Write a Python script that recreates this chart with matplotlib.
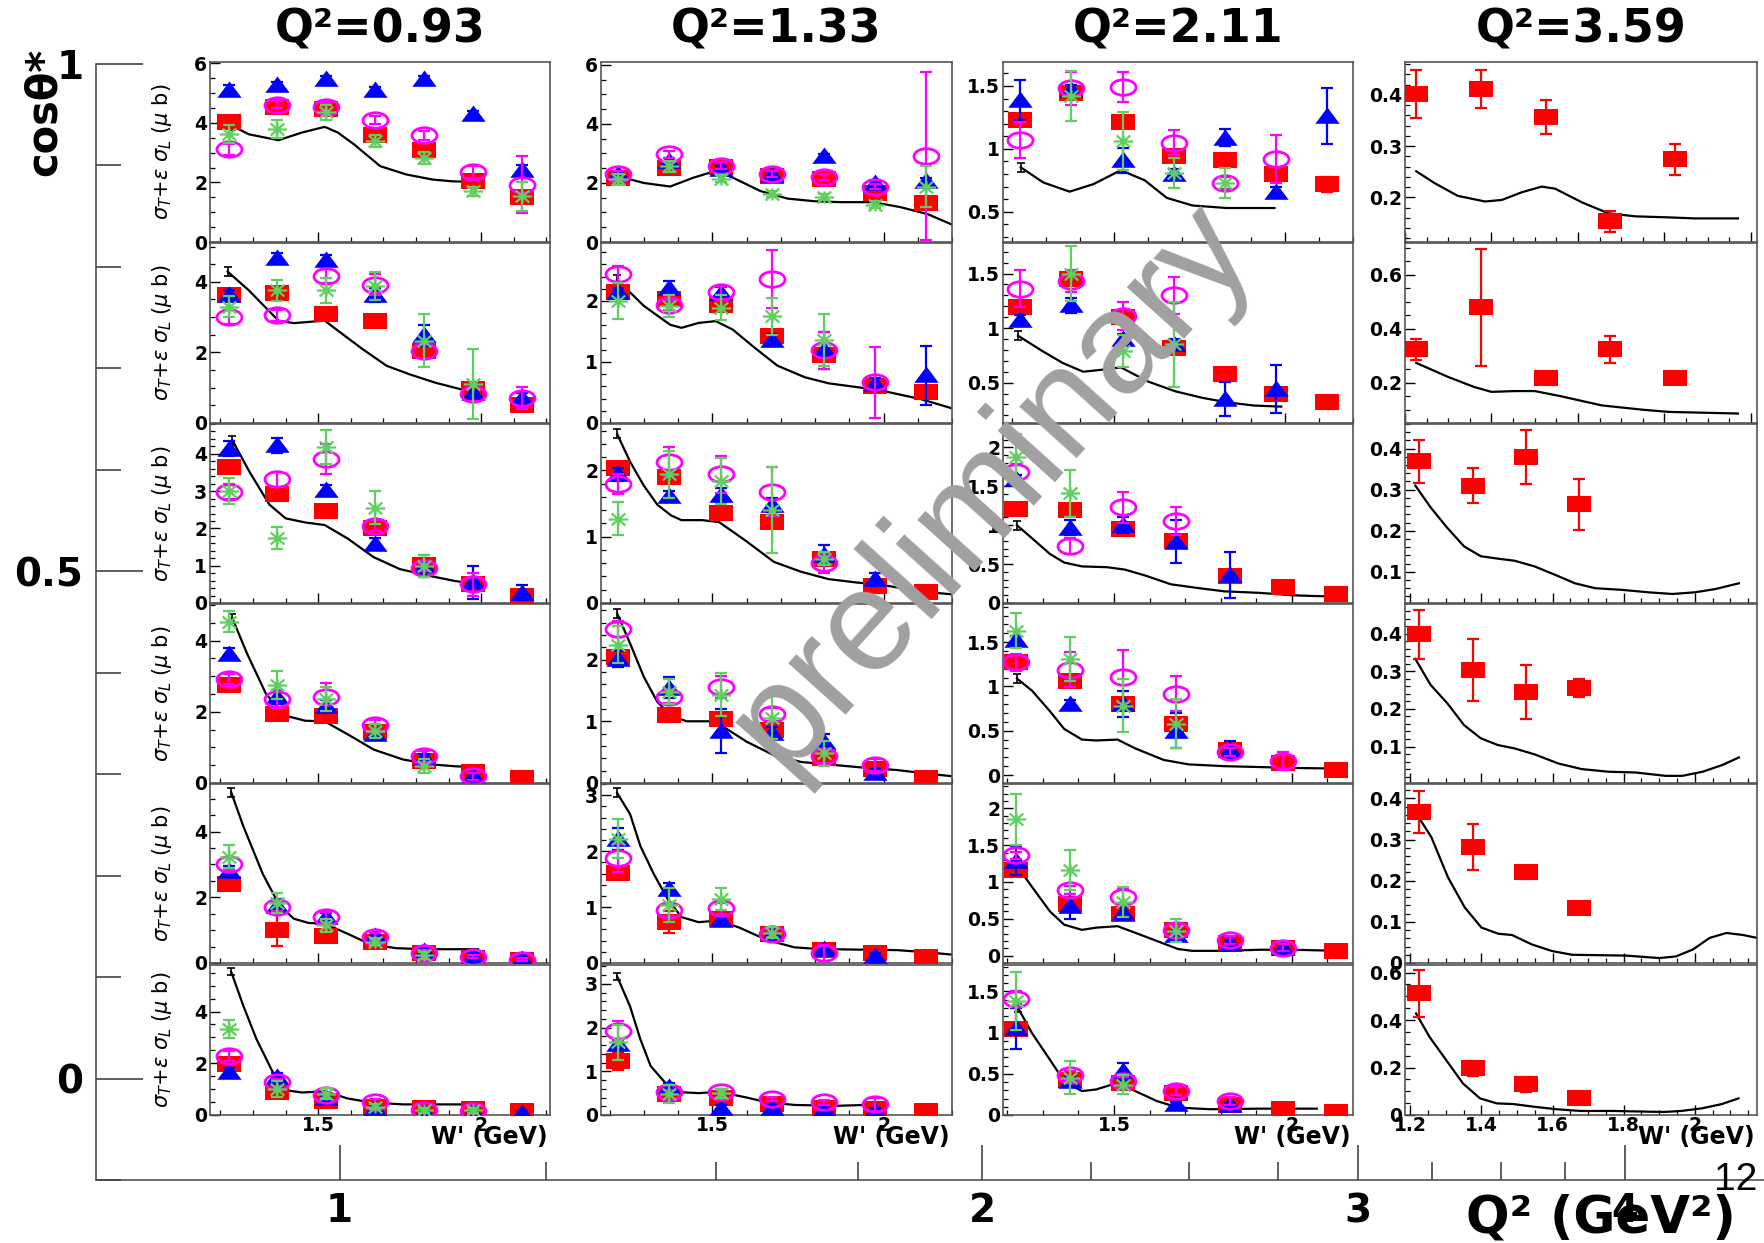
import numpy as np
import matplotlib
matplotlib.use("Agg")
import matplotlib.pyplot as plt
from matplotlib.path import Path
from matplotlib.ticker import MultipleLocator, FixedLocator, FuncFormatter, NullFormatter

nan = np.nan

# ---------------------------------------------------------------- data ----
q2_titles = ["Q²=0.93", "Q²=1.33", "Q²=2.11", "Q²=3.59"]
w_bins = [1.225, 1.375, 1.525, 1.675, 1.825, 1.975, 2.125]
cos_ticks = [0, 0.5, 1]
cos_minor = [-0.1, 0.1, 0.2, 0.3, 0.4, 0.6, 0.7, 0.8, 0.9]
q2_axis_ticks = [1, 2, 3, 4]
q2_minor_ticks = [1.25, 1.5, 1.75, 2.25, 2.5, 2.75, 3.25, 3.5, 3.75]

# ---- column 1 : Q2 = 0.93
red_c1 = [[4.04, 4.53, 4.47, 3.59, 3.09, 2.04, 1.50],
          [3.62, 3.67, 3.10, 2.88, 2.05, 0.95, 0.52],
          [3.65, 2.91, 2.47, 2.02, 1.02, 0.50, 0.20],
          [2.74, 1.95, 1.89, 1.42, 0.61, 0.31, 0.14],
          [2.40, 1.01, 0.83, 0.65, 0.29, 0.16, 0.10],
          [1.99, 0.90, 0.54, 0.32, 0.26, 0.23, 0.15]]
red_err_c1 = [[0.10, 0.10, 0.10, 0.10, 0.10, 0.10, 0.15],
              [0.10, 0.10, 0.10, 0.08, 0.15, 0.10, 0.10],
              [0.10, 0.10, 0.08, 0.10, 0.10, 0.10, 0.08],
              [0.10, 0.10, 0.10, 0.10, 0.10, 0.08, 0.05],
              [0.15, 0.50, 0.15, 0.10, 0.10, 0.10, 0.05],
              [0.15, 0.15, 0.10, 0.10, 0.10, 0.10, 0.05]]
blue_c1 = [[5.12, 5.27, 5.49, 5.10, 5.49, 4.30, 2.43],
           [3.62, 4.67, 4.62, 3.62, 2.48, 0.86, 0.71],
           [4.14, 4.23, 3.02, 1.59, 1.00, 0.55, 0.27],
           [3.63, 2.41, 2.17, 1.37, 0.71, 0.19, nan],
           [2.81, 1.75, 1.41, 0.81, 0.36, 0.19, 0.12],
           [1.67, 1.47, 0.64, 0.26, 0.13, 0.13, 0.09]]
blue_err_c1 = [[0.15, 0.12, 0.10, 0.10, 0.08, 0.10, 0.15],
               [0.15, 0.15, 0.15, 0.20, 0.30, 0.20, 0.15],
               [0.20, 0.20, 0.15, 0.15, 0.30, 0.45, 0.20],
               [0.15, 0.20, 0.15, 0.10, 0.10, 0.10, nan],
               [0.15, 0.20, 0.10, 0.10, 0.10, 0.10, 0.05],
               [0.15, 0.15, 0.10, 0.10, 0.05, 0.05, 0.05]]
mag_c1 = [[3.11, 4.61, 4.55, 4.10, 3.59, 2.34, 1.93],
          [3.00, 3.05, 4.16, 3.92, 2.05, 0.81, 0.71],
          [2.98, 3.32, 3.86, 2.07, 0.95, 0.50, nan],
          [2.92, 2.36, 2.42, 1.63, 0.75, 0.19, nan],
          [3.02, 1.72, 1.41, 0.80, 0.31, 0.19, 0.10],
          [2.28, 1.26, 0.77, 0.51, 0.19, 0.15, nan]]
mag_err_c1 = [[0.20, 0.12, 0.12, 0.15, 0.15, 0.20, 0.95],
              [0.20, 0.15, 0.20, 0.30, 0.20, 0.20, 0.30],
              [0.20, 0.20, 0.40, 0.15, 0.10, 0.30, nan],
              [0.15, 0.25, 0.40, 0.15, 0.15, 0.10, nan],
              [0.20, 0.15, 0.15, 0.10, 0.10, 0.05, 0.05],
              [0.20, 0.15, 0.10, 0.10, 0.10, 0.10, nan]]
green_c1 = [[3.62, 3.79, 4.36, 3.40, 2.83, 1.70, 1.53],
            [3.29, 3.76, 3.76, 3.88, 2.33, 1.10, nan],
            [3.00, 1.75, 4.18, 2.56, 1.00, nan, nan],
            [4.53, 2.76, 2.36, 1.46, 0.47, nan, nan],
            [3.23, 1.82, 1.15, 0.65, 0.23, nan, nan],
            [3.31, 1.00, 0.83, 0.32, 0.19, 0.19, nan]]
green_err_c1 = [[0.30, 0.30, 0.25, 0.20, 0.20, 0.15, 0.50],
                [0.30, 0.30, 0.35, 0.40, 0.75, 1.00, nan],
                [0.35, 0.30, 0.45, 0.45, 0.30, nan, nan],
                [0.30, 0.40, 0.35, 0.20, 0.20, nan, nan],
                [0.35, 0.30, 0.20, 0.10, 0.10, nan, nan],
                [0.35, 0.30, 0.20, 0.10, 0.10, 0.10, nan]]
curve_x_c1 = [[1.237, 1.287, 1.378, 1.45, 1.52, 1.56, 1.61, 1.69, 1.77, 1.85, 1.91, 1.97],
              [1.222, 1.287, 1.378, 1.425, 1.52, 1.56, 1.635, 1.71, 1.78, 1.86, 1.94, 1.99],
              [1.237, 1.287, 1.35, 1.40, 1.46, 1.52, 1.59, 1.67, 1.75, 1.84, 1.92, 1.99],
              [1.237, 1.282, 1.34, 1.40, 1.46, 1.52, 1.59, 1.67, 1.76, 1.85, 1.92, 1.99],
              [1.233, 1.27, 1.33, 1.38, 1.425, 1.47, 1.52, 1.59, 1.66, 1.74, 1.83, 1.91, 1.99],
              [1.233, 1.27, 1.31, 1.36, 1.40, 1.45, 1.52, 1.59, 1.66, 1.76, 1.89, 1.99]]
curve_y_c1 = [[3.90, 3.62, 3.42, 3.68, 3.87, 3.68, 3.28, 2.55, 2.27, 2.10, 2.04, 2.02],
              [4.29, 3.76, 2.90, 2.83, 2.90, 2.62, 2.10, 1.62, 1.38, 1.14, 0.95, 0.86],
              [4.36, 3.55, 2.64, 2.27, 2.16, 2.09, 1.73, 1.23, 0.91, 0.73, 0.59, 0.50],
              [4.62, 3.63, 2.50, 1.89, 1.75, 1.73, 1.37, 0.94, 0.66, 0.52, 0.47, 0.44],
              [5.20, 4.17, 2.71, 1.77, 1.35, 1.22, 1.20, 0.89, 0.57, 0.45, 0.42, 0.42, 0.42],
              [5.54, 4.23, 2.95, 1.67, 0.96, 0.87, 0.92, 0.64, 0.49, 0.41, 0.41, 0.41]]
ylim_c1 = [(0, 6.05), (0, 5.1), (0, 4.8), (0, 5.03), (0, 5.45), (0, 5.8)]
ystep_c1 = [2, 2, 1, 2, 2, 2]

# ---- column 2 : Q2 = 1.33
red_c2 = [[2.18, 2.50, 2.53, 2.24, 2.15, 1.65, 1.33],
          [2.14, 2.03, 1.94, 1.42, 1.11, 0.61, 0.50],
          [2.03, 1.90, 1.36, 1.22, 0.67, 0.26, 0.16],
          [2.04, 1.10, 1.03, 0.86, 0.40, 0.23, 0.08],
          [1.61, 0.73, 0.78, 0.51, 0.23, 0.18, 0.10],
          [1.23, 0.48, 0.40, 0.25, 0.17, 0.14, 0.10]]
red_err_c2 = [[0.10, 0.10, 0.10, 0.10, 0.10, 0.10, 0.10],
              [0.05, 0.05, 0.05, 0.05, 0.05, 0.05, 0.05],
              [0.05, 0.05, 0.05, 0.05, 0.05, 0.05, 0.05],
              [0.05, 0.05, 0.05, 0.05, 0.05, 0.05, 0.05],
              [0.05, 0.20, 0.05, 0.05, 0.05, 0.05, 0.05],
              [0.20, 0.05, 0.05, 0.05, 0.05, 0.05, 0.05]]
blue_c2 = [[2.29, 2.76, 2.47, 2.27, 2.91, 2.00, 2.08],
           [2.14, 2.22, 2.13, 1.36, 1.19, 0.64, 0.78],
           [1.94, 1.61, 1.63, 1.48, 0.72, 0.36, nan],
           [2.01, 1.54, 0.84, 0.81, 0.67, 0.17, nan],
           [2.22, 1.33, 0.76, 0.51, 0.25, 0.13, nan],
           [1.62, 0.63, 0.17, 0.17, 0.14, 0.10, nan]]
blue_err_c2 = [[0.10, 0.10, 0.10, 0.10, 0.08, 0.10, 0.10],
               [0.08, 0.10, 0.10, 0.10, 0.30, 0.10, 0.48],
               [0.10, 0.08, 0.10, 0.10, 0.15, 0.10, nan],
               [0.13, 0.17, 0.36, 0.10, 0.13, 0.05, nan],
               [0.20, 0.10, 0.05, 0.05, 0.08, 0.05, nan],
               [0.10, 0.10, 0.05, 0.05, 0.05, 0.05, nan]]
mag_c2 = [[2.29, 2.98, 2.59, 2.29, 2.20, 1.88, 2.92],
          [2.44, 1.93, 2.14, 2.36, 1.19, 0.67, nan],
          [1.79, 2.13, 1.94, 1.68, 0.60, nan, nan],
          [2.50, 1.39, 1.55, 1.11, 0.43, 0.29, nan],
          [1.87, 0.94, 0.98, 0.51, 0.18, nan, nan],
          [1.92, 0.52, 0.52, 0.36, 0.29, 0.25, nan]]
mag_err_c2 = [[0.12, 0.12, 0.12, 0.10, 0.10, 0.10, 2.85],
              [0.13, 0.08, 0.10, 0.47, 0.30, 0.58, nan],
              [0.15, 0.22, 0.28, 0.37, 0.15, nan, nan],
              [0.13, 0.10, 0.18, 0.10, 0.10, 0.10, nan],
              [0.25, 0.10, 0.10, 0.05, 0.15, nan, nan],
              [0.23, 0.05, 0.05, 0.05, 0.05, 0.15, nan]]
green_c2 = [[2.12, 2.56, 2.15, 1.62, 1.53, 1.26, 1.88],
            [2.00, 1.92, 1.89, 1.75, 1.36, nan, nan],
            [1.27, 1.94, 1.84, 1.40, 0.67, nan, nan],
            [2.24, 1.48, 1.43, 1.06, 0.48, nan, nan],
            [2.22, 1.04, 1.14, 0.54, nan, nan, nan],
            [1.66, 0.48, 0.50, nan, nan, nan, nan]]
green_err_c2 = [[0.20, 0.20, 0.12, 0.10, 0.10, 0.12, 0.70],
                [0.30, 0.18, 0.20, 0.30, 0.42, nan, nan],
                [0.25, 0.35, 0.35, 0.65, 0.10, nan, nan],
                [0.30, 0.20, 0.35, 0.35, 0.20, nan, nan],
                [0.35, 0.30, 0.20, 0.10, nan, nan, nan],
                [0.40, 0.20, 0.10, nan, nan, nan, nan]]
curve_x_c2 = [[1.222, 1.30, 1.377, 1.445, 1.51, 1.56, 1.64, 1.72, 1.80, 1.875, 1.97, 2.05, 2.13, 2.20],
              [1.222, 1.30, 1.377, 1.41, 1.46, 1.51, 1.56, 1.62, 1.69, 1.77, 1.84, 1.92, 1.995, 2.11, 2.20],
              [1.222, 1.26, 1.30, 1.34, 1.38, 1.41, 1.47, 1.52, 1.60, 1.68, 1.76, 1.84, 1.92, 2.00, 2.10, 2.20],
              [1.222, 1.26, 1.30, 1.34, 1.38, 1.425, 1.49, 1.53, 1.60, 1.68, 1.76, 1.84, 1.94, 2.04, 2.13, 2.20],
              [1.222, 1.26, 1.29, 1.33, 1.37, 1.41, 1.46, 1.52, 1.58, 1.66, 1.74, 1.81, 1.92, 2.04, 2.13, 2.20],
              [1.222, 1.26, 1.29, 1.32, 1.37, 1.41, 1.46, 1.52, 1.60, 1.66, 1.74, 1.86, 1.95, 2.00]]
curve_y_c2 = [[2.24, 2.00, 1.88, 2.18, 2.41, 2.18, 1.73, 1.47, 1.38, 1.35, 1.35, 1.18, 0.94, 0.59],
              [2.35, 1.92, 1.61, 1.56, 1.64, 1.67, 1.53, 1.25, 0.94, 0.75, 0.65, 0.59, 0.53, 0.39, 0.24],
              [2.55, 2.13, 1.77, 1.48, 1.32, 1.25, 1.25, 1.22, 0.93, 0.62, 0.47, 0.36, 0.31, 0.27, 0.18, 0.13],
              [2.75, 2.26, 1.72, 1.31, 1.09, 1.00, 1.00, 0.92, 0.67, 0.45, 0.34, 0.30, 0.25, 0.21, 0.15, 0.11],
              [3.04, 2.66, 2.09, 1.58, 1.14, 0.82, 0.73, 0.76, 0.63, 0.41, 0.28, 0.25, 0.24, 0.23, 0.19, 0.15],
              [3.17, 2.48, 1.73, 1.12, 0.67, 0.52, 0.50, 0.53, 0.40, 0.29, 0.23, 0.21, 0.23, 0.21]]
ylim_c2 = [(0, 6.1), (0, 2.95), (0, 2.7), (0, 2.9), (0, 3.2), (0, 3.43)]
ystep_c2 = [2, 1, 1, 1, 1, 1]

# ---- column 3 : Q2 = 2.11
red_c3 = [[1.23, 1.44, 1.21, 0.94, 0.91, 0.80, 0.72],
          [1.19, 1.45, 1.10, 0.82, 0.58, 0.40, 0.32],
          [1.21, 1.19, 0.95, 0.80, 0.35, 0.21, 0.12],
          [1.27, 1.06, 0.80, 0.58, 0.28, 0.14, 0.06],
          [1.16, 0.70, 0.57, 0.35, 0.17, 0.11, 0.06],
          [1.04, 0.43, 0.39, 0.27, 0.12, 0.07, 0.04]]
red_err_c3 = [[0.03, 0.03, 0.03, 0.03, 0.03, 0.03, 0.06],
              [0.03, 0.03, 0.03, 0.03, 0.03, 0.03, 0.06],
              [0.03, 0.03, 0.03, 0.03, 0.03, 0.03, 0.03],
              [0.03, 0.03, 0.03, 0.03, 0.03, 0.03, 0.03],
              [0.03, 0.03, 0.03, 0.03, 0.03, 0.03, 0.03],
              [0.03, 0.03, 0.03, 0.03, 0.03, 0.03, 0.03]]
blue_c3 = [[1.39, 1.47, 0.91, 0.80, 1.09, 0.66, 1.26],
           [1.07, 1.21, 0.90, 0.85, 0.35, 0.44, nan],
           [1.59, 0.97, 1.00, 0.79, 0.36, nan, nan],
           [1.52, 0.80, 0.80, 0.50, 0.28, nan, nan],
           [1.29, 0.67, 0.58, 0.28, 0.16, 0.10, nan],
           [1.05, 0.41, 0.53, 0.13, 0.12, nan, nan]]
blue_err_c3 = [[0.16, 0.04, 0.10, 0.04, 0.07, 0.04, 0.22],
               [0.05, 0.07, 0.05, 0.05, 0.16, 0.22, nan],
               [0.05, 0.10, 0.10, 0.28, 0.30, nan, nan],
               [0.05, 0.05, 0.15, 0.20, 0.10, nan, nan],
               [0.20, 0.17, 0.08, 0.05, 0.05, 0.05, nan],
               [0.25, 0.05, 0.10, 0.03, 0.03, nan, nan]]
mag_c3 = [[1.07, 1.48, 1.49, 1.05, 0.73, 0.92, nan],
          [1.36, 1.43, 1.11, 1.30, nan, nan, nan],
          [1.68, 0.73, 1.23, 1.05, nan, nan, nan],
          [1.27, 1.19, 1.11, 0.92, 0.26, 0.16, nan],
          [1.36, 0.89, 0.80, 0.35, 0.21, 0.11, nan],
          [1.41, 0.48, 0.41, 0.29, 0.17, nan, nan]]
mag_err_c3 = [[0.14, 0.13, 0.12, 0.10, 0.05, 0.19, nan],
              [0.17, 0.10, 0.13, 0.17, nan, nan, nan],
              [0.10, 0.10, 0.20, 0.18, nan, nan, nan],
              [0.10, 0.20, 0.30, 0.20, 0.05, 0.10, nan],
              [0.05, 0.05, 0.10, 0.05, 0.05, 0.05, nan],
              [0.10, 0.05, 0.05, 0.05, 0.05, nan, nan]]
green_c3 = [[nan, 1.42, 1.06, 0.81, 0.73, nan, nan],
            [nan, 1.50, 0.79, 0.85, nan, nan, nan],
            [1.87, 1.41, nan, nan, nan, nan, nan],
            [1.63, 1.31, 0.78, 0.58, nan, nan, nan],
            [1.85, 1.16, 0.73, 0.34, nan, nan, nan],
            [1.38, 0.45, 0.37, nan, nan, nan, nan]]
green_err_c3 = [[nan, 0.20, 0.23, 0.12, 0.12, nan, nan],
                [nan, 0.25, 0.15, 0.39, nan, nan, nan],
                [0.30, 0.30, nan, nan, nan, nan, nan],
                [0.20, 0.25, 0.30, 0.28, nan, nan, nan],
                [0.35, 0.27, 0.20, 0.16, nan, nan, nan],
                [0.35, 0.20, 0.12, nan, nan, nan, nan]]
curve_x_c3 = [[1.227, 1.293, 1.37, 1.44, 1.52, 1.59, 1.655, 1.73, 1.83, 1.97],
              [1.219, 1.29, 1.35, 1.41, 1.47, 1.52, 1.60, 1.68, 1.76, 1.83, 1.91, 1.99],
              [1.227, 1.27, 1.32, 1.36, 1.41, 1.48, 1.53, 1.59, 1.66, 1.74, 1.81, 1.91, 2.00, 2.06, 2.15],
              [1.227, 1.27, 1.32, 1.36, 1.41, 1.45, 1.51, 1.56, 1.64, 1.71, 1.81, 1.91, 2.00, 2.09],
              [1.227, 1.27, 1.32, 1.36, 1.41, 1.45, 1.51, 1.56, 1.62, 1.68, 1.72, 1.81, 1.91, 2.00, 2.09, 2.15],
              [1.23, 1.27, 1.32, 1.36, 1.41, 1.45, 1.51, 1.56, 1.62, 1.68, 1.77, 1.91, 2.00, 2.07]]
curve_y_c3 = [[0.853, 0.733, 0.66, 0.72, 0.83, 0.75, 0.61, 0.55, 0.53, 0.53],
              [0.93, 0.79, 0.68, 0.60, 0.62, 0.64, 0.51, 0.42, 0.36, 0.32, 0.29, 0.28],
              [1.00, 0.83, 0.63, 0.52, 0.47, 0.46, 0.43, 0.35, 0.24, 0.19, 0.15, 0.13, 0.10, 0.09, 0.08],
              [1.09, 0.95, 0.72, 0.52, 0.40, 0.39, 0.40, 0.30, 0.17, 0.12, 0.10, 0.09, 0.08, 0.075],
              [1.22, 0.93, 0.60, 0.42, 0.35, 0.38, 0.40, 0.31, 0.20, 0.09, 0.065, 0.065, 0.08, 0.08, 0.07, 0.07],
              [1.30, 0.99, 0.67, 0.41, 0.29, 0.31, 0.39, 0.29, 0.17, 0.09, 0.07, 0.077, 0.077, 0.077]]
ylim_c3 = [(0.26, 1.69), (0.13, 1.78), (0, 2.3), (-0.09, 1.93), (-0.1, 2.33), (0, 1.82)]
ystep_c3 = [0.5, 0.5, 0.5, 0.5, 0.5, 0.5]

# ---- column 4 : Q2 = 3.59 (only one data set)
red_c4 = [[0.402, 0.411, 0.356, 0.153, 0.274],
          [0.324, 0.480, 0.220, 0.324, 0.219],
          [0.369, 0.310, 0.380, 0.265],
          [0.398, 0.303, 0.245, 0.256],
          [0.367, 0.282, 0.220, 0.133],
          [0.512, 0.196, 0.129, 0.070]]
red_err_c4 = [[0.047, 0.037, 0.033, 0.021, 0.031],
              [0.040, 0.216, 0.015, 0.050, 0.008],
              [0.052, 0.042, 0.065, 0.062],
              [0.064, 0.082, 0.073, 0.023],
              [0.051, 0.056, 0.015, 0.005],
              [0.100, 0.030, 0.030, 0.005]]
curve_x_c4 = [[1.226, 1.268, 1.322, 1.385, 1.424, 1.47, 1.516, 1.547, 1.61, 1.67, 1.733, 1.81, 1.87, 1.97],
              [1.226, 1.30, 1.36, 1.40, 1.455, 1.50, 1.56, 1.655, 1.75, 1.81, 1.89, 1.97],
              [1.214, 1.257, 1.304, 1.351, 1.398, 1.446, 1.493, 1.55, 1.606, 1.663, 1.72, 1.795, 1.87, 1.937, 2.00, 2.058, 2.124],
              [1.214, 1.257, 1.304, 1.351, 1.398, 1.446, 1.493, 1.55, 1.616, 1.682, 1.757, 1.833, 1.918, 1.965, 2.022, 2.078, 2.124],
              [1.217, 1.259, 1.306, 1.353, 1.40, 1.448, 1.486, 1.542, 1.599, 1.655, 1.73, 1.806, 1.90, 1.947, 1.995, 2.042, 2.089, 2.136, 2.175],
              [1.216, 1.254, 1.301, 1.348, 1.396, 1.443, 1.49, 1.547, 1.613, 1.68, 1.774, 1.868, 1.915, 1.962, 2.02, 2.076, 2.123]]
curve_y_c4 = [[0.251, 0.228, 0.203, 0.192, 0.195, 0.21, 0.221, 0.217, 0.19, 0.169, 0.163, 0.161, 0.159, 0.159],
              [0.274, 0.222, 0.185, 0.167, 0.17, 0.17, 0.151, 0.117, 0.101, 0.093, 0.09, 0.087],
              [0.31, 0.257, 0.207, 0.162, 0.138, 0.132, 0.127, 0.113, 0.093, 0.072, 0.06, 0.056, 0.05, 0.046, 0.05, 0.058, 0.072],
              [0.333, 0.264, 0.215, 0.157, 0.122, 0.104, 0.095, 0.079, 0.055, 0.04, 0.033, 0.031, 0.022, 0.022, 0.033, 0.051, 0.071],
              [0.363, 0.306, 0.208, 0.135, 0.086, 0.071, 0.068, 0.045, 0.029, 0.02, 0.019, 0.018, 0.012, 0.016, 0.033, 0.061, 0.073, 0.068, 0.061],
              [0.428, 0.329, 0.231, 0.133, 0.07, 0.049, 0.046, 0.035, 0.024, 0.017, 0.017, 0.014, 0.013, 0.017, 0.028, 0.046, 0.07]]
ylim_c4 = [(0.113, 0.464), (0.052, 0.717), (0.024, 0.46), (0.003, 0.479), (0, 0.435), (0, 0.632)]
ystep_c4 = [0.1, 0.2, 0.1, 0.1, 0.1, 0.2]

# ------------------------------------------------------------- layout ----
W, H = 1765.0, 1243.0
col_px = [(210, 550), (601, 952), (1003, 1353), (1405, 1757)]
row_px = [(62, 242), (243, 423), (424, 603), (604, 783), (784, 963), (965, 1115)]
xlim_col = [(1.168, 2.211), (1.175, 2.2), (1.175, 2.2), (1.185, 2.175)]
xlim_special = {(2, 2): (1.188, 2.172), (3, 2): (1.188, 2.172), (4, 2): (1.188, 2.172),
                (5, 2): (1.188, 2.172), (0, 3): (1.2, 2.014), (1, 3): (1.2, 2.014)}

RED, BLUE, MAG, GREEN = '#ff0000', '#0000ff', '#ff00ff', '#5fcf5f'
BOLD = dict(family='DejaVu Sans', weight='bold')

plt.rcParams['font.family'] = ['DejaVu Sans']
plt.rcParams['mathtext.fontset'] = 'dejavusans'


def fx(px):
    return px / W


def fy(py):
    return 1.0 - py / H


# custom (horizontally stretched) markers
m_square = Path([(-1, -0.62), (1, -0.62), (1, 0.62), (-1, 0.62), (-1, -0.62)],
                [Path.MOVETO, Path.LINETO, Path.LINETO, Path.LINETO, Path.CLOSEPOLY])
m_tri = Path([(-1, -0.60), (1, -0.60), (0, 0.74), (-1, -0.60)],
             [Path.MOVETO, Path.LINETO, Path.LINETO, Path.CLOSEPOLY])
uc = Path.unit_circle()
m_ell = Path(uc.vertices * np.array([1.0, 0.62]), uc.codes)
m_star = Path([(-1, 0), (1, 0), (-0.7, -0.62), (0.7, 0.62), (-0.7, 0.62), (0.7, -0.62),
               (0, -0.62), (0, 0.62)],
              [Path.MOVETO, Path.LINETO, Path.MOVETO, Path.LINETO, Path.MOVETO, Path.LINETO,
               Path.MOVETO, Path.LINETO])

fig = plt.figure(figsize=(W / 100, H / 100), dpi=100)

# ---- outer (cos theta*, Q2) frame
ax0 = fig.add_axes([fx(96), fy(1180), fx(1765) - fx(96), fy(64) - fy(1180)])
ax0.set_facecolor('none')
ax0.set_xscale('log')
ax0.set_xlim(0.769, 4.652)
ax0.set_ylim(-0.1, 1.0)
for s in ['top', 'right']:
    ax0.spines[s].set_visible(False)
for s in ['left', 'bottom']:
    ax0.spines[s].set_color('#444444')
    ax0.spines[s].set_linewidth(1.1)
ax0.xaxis.set_major_locator(FixedLocator(q2_axis_ticks))
ax0.xaxis.set_minor_locator(FixedLocator(q2_minor_ticks))
ax0.xaxis.set_major_formatter(FuncFormatter(lambda v, p: f'{v:g}'))
ax0.xaxis.set_minor_formatter(NullFormatter())
ax0.yaxis.set_major_locator(FixedLocator(cos_ticks))
ax0.yaxis.set_minor_locator(FixedLocator(cos_minor))
ax0.yaxis.set_major_formatter(FuncFormatter(lambda v, p: f'{v:g}'))
ax0.tick_params(axis='x', which='major', direction='in', length=25, width=1.1, pad=9,
                labelsize=28, color='#333333')
ax0.tick_params(axis='x', which='minor', direction='in', length=13, width=1.1, color='#333333')
ax0.tick_params(axis='y', which='major', direction='in', length=34, width=1.1, pad=9,
                labelsize=28, color='#333333')
ax0.tick_params(axis='y', which='minor', direction='in', length=18, width=1.1, color='#333333')
for lab in ax0.get_xticklabels() + ax0.get_yticklabels():
    lab.set_fontweight('bold')

fig.text(fx(44), fy(112), 'cosθ*', rotation=90, ha='center', va='center', fontsize=30, **BOLD)
fig.text(fx(1736), fy(1218), 'Q² (GeV²)', ha='right', va='center', fontsize=37, **BOLD)
fig.text(fx(1757), fy(1180), '12', ha='right', va='center', fontsize=28,
         family='Liberation Sans')

# ---- panels
cols = [
    dict(red=red_c1, red_err=red_err_c1, blue=blue_c1, blue_err=blue_err_c1, mag=mag_c1,
         mag_err=mag_err_c1, green=green_c1, green_err=green_err_c1, cx=curve_x_c1,
         cy=curve_y_c1, ylim=ylim_c1, ystep=ystep_c1),
    dict(red=red_c2, red_err=red_err_c2, blue=blue_c2, blue_err=blue_err_c2, mag=mag_c2,
         mag_err=mag_err_c2, green=green_c2, green_err=green_err_c2, cx=curve_x_c2,
         cy=curve_y_c2, ylim=ylim_c2, ystep=ystep_c2),
    dict(red=red_c3, red_err=red_err_c3, blue=blue_c3, blue_err=blue_err_c3, mag=mag_c3,
         mag_err=mag_err_c3, green=green_c3, green_err=green_err_c3, cx=curve_x_c3,
         cy=curve_y_c3, ylim=ylim_c3, ystep=ystep_c3),
    dict(red=red_c4, red_err=red_err_c4, blue=None, blue_err=None, mag=None, mag_err=None,
         green=None, green_err=None, cx=curve_x_c4, cy=curve_y_c4, ylim=ylim_c4,
         ystep=ystep_c4),
]


def draw_series(ax, vals, errs, color, marker, ms, mfc, mew, zo):
    y = np.array(vals, dtype=float)
    e = np.array(errs, dtype=float)
    x = np.array(w_bins[:len(y)])
    ok = np.isfinite(y)
    if not ok.any():
        return
    ax.errorbar(x[ok], y[ok], yerr=np.nan_to_num(e[ok]), fmt='none', ecolor=color,
                elinewidth=1.6, capsize=4.0, capthick=1.6, zorder=zo)
    ax.plot(x[ok], y[ok], linestyle='none', marker=marker, markersize=ms,
            markerfacecolor=mfc, markeredgecolor=color, markeredgewidth=mew, zorder=zo + 0.1)


fmt = FuncFormatter(lambda v, p: f'{v:g}')

for c, col in enumerate(cols):
    cl, cr = col_px[c]
    for r in range(6):
        rt, rb = row_px[r]
        ax = fig.add_axes([fx(cl), fy(rb), fx(cr) - fx(cl), fy(rt) - fy(rb)])
        ax.set_facecolor('white')
        xl = xlim_special.get((r, c), xlim_col[c])
        ax.set_xlim(*xl)
        ax.set_ylim(*col['ylim'][r])
        for s in ax.spines.values():
            s.set_color('#555555')
            s.set_linewidth(1.2)
        step = col['ystep'][r]
        ax.yaxis.set_major_locator(MultipleLocator(step))
        nsub = 4 if step in (2, 0.2) else 5
        ax.yaxis.set_minor_locator(MultipleLocator(step / nsub))
        ax.yaxis.set_major_formatter(fmt)
        if c < 3:
            ax.xaxis.set_major_locator(MultipleLocator(0.5))
            ax.xaxis.set_minor_locator(MultipleLocator(0.1))
        else:
            ax.xaxis.set_major_locator(MultipleLocator(0.2))
            ax.xaxis.set_minor_locator(MultipleLocator(0.05))
        ax.xaxis.set_major_formatter(fmt)
        ax.tick_params(which='major', direction='in', length=7, width=1.0, top=False,
                       right=False, pad=2)
        ax.tick_params(axis='y', labelsize=13.5)
        ax.tick_params(axis='x', labelsize=13.5, pad=1)
        ax.tick_params(which='minor', direction='in', length=3.5, width=0.9, top=False,
                       right=False)
        if r < 5:
            ax.tick_params(axis='x', labelbottom=False)
        for lab in ax.get_xticklabels() + ax.get_yticklabels():
            lab.set_fontweight('bold')

        # model curve
        ax.plot(col['cx'][r], col['cy'][r], color='black', linewidth=1.6, zorder=2)
        yr = col['ylim'][r][1] - col['ylim'][r][0]
        if c < 3:
            ax.errorbar([col['cx'][r][0]], [col['cy'][r][0]], yerr=[0.025 * yr], fmt='none',
                        ecolor='black', elinewidth=1.2, capsize=3, capthick=1.2, zorder=2)

        draw_series(ax, col['red'][r], col['red_err'][r], RED, m_square, 17.5, RED, 0, 3)
        if col['blue'] is not None:
            draw_series(ax, col['blue'][r], col['blue_err'][r], BLUE, m_tri, 17.5, BLUE, 0, 4)
            draw_series(ax, col['mag'][r], col['mag_err'][r], MAG, m_ell, 18, 'none', 2.0, 5)
            draw_series(ax, col['green'][r], col['green_err'][r], GREEN, m_star, 14, 'none',
                        1.6, 6)

        if c == 0:
            fig.text(fx(162), (fy(rt) + fy(rb)) / 2,
                     r'$\sigma_{T}$+$\varepsilon$ $\sigma_{L}$ ($\mu$ b)', rotation=90,
                     ha='center', va='center', fontsize=15)
        if r == 5:
            fig.text(fx(cr - 2), fy(1137), "W' (GeV)", ha='right', va='center', fontsize=17,
                     **BOLD)
    fig.text((fx(cl) + fx(cr)) / 2, fy(30), q2_titles[c], ha='center', va='center',
             fontsize=33, **BOLD)

# watermark
fig.text(0.5620, 0.6090, 'preliminary', rotation=48, ha='center', va='center', fontsize=104,
         color='#a0a0a0', family='Liberation Sans', zorder=50)

fig.savefig('out.png', dpi=100)
